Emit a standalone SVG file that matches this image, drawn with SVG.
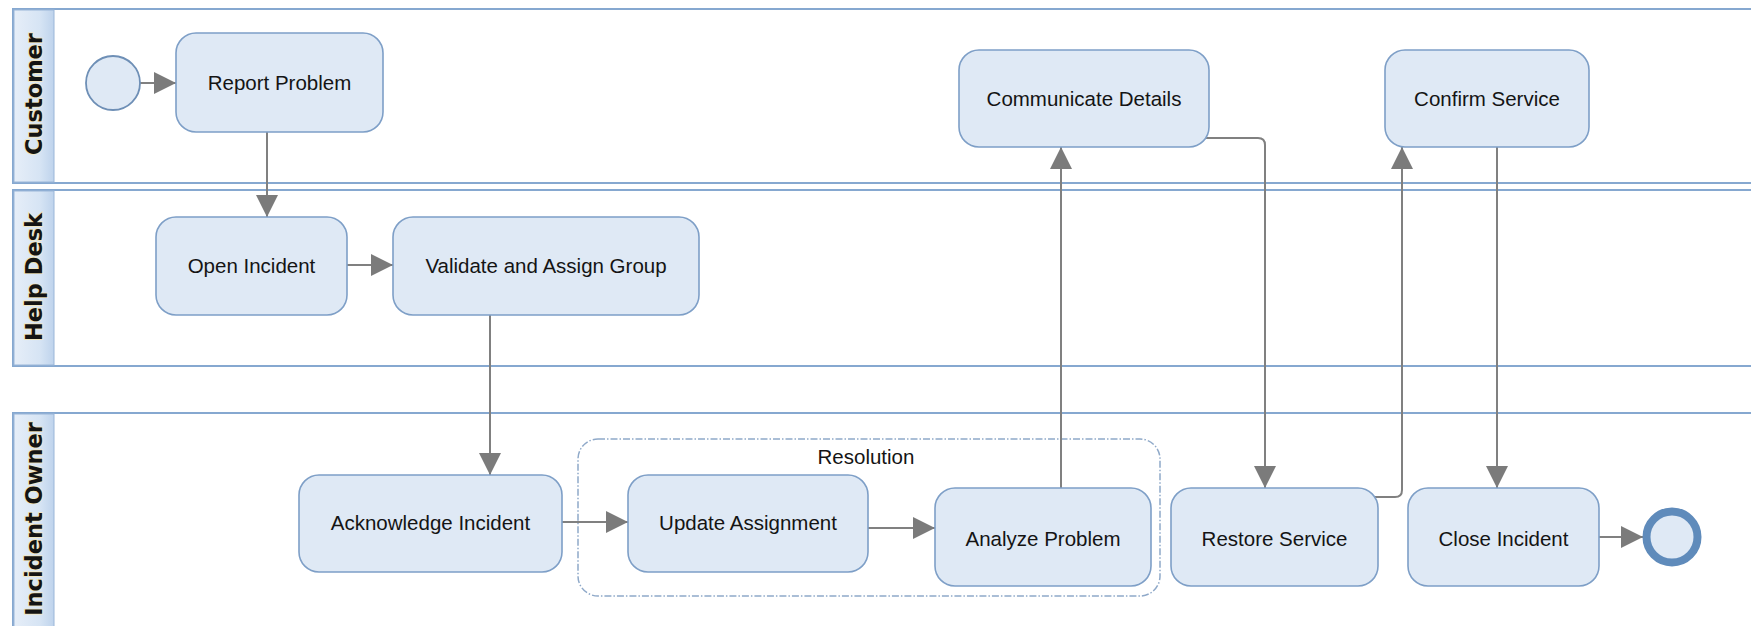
<svg xmlns="http://www.w3.org/2000/svg" width="1751" height="626" viewBox="0 0 1751 626">
  <defs>
    <linearGradient id="hdrGrad" x1="0" y1="0" x2="1" y2="0">
      <stop offset="0" stop-color="#e6eef8"/>
      <stop offset="0.65" stop-color="#d6e4f4"/>
      <stop offset="1" stop-color="#bed3ec"/>
    </linearGradient>
    <marker id="arrow" viewBox="0 0 10 10" refX="10" refY="5" markerWidth="22" markerHeight="22" markerUnits="userSpaceOnUse" orient="auto">
      <path d="M0,0 L10,5 L0,10 z" fill="#7b7b7b"/>
    </marker>
    <style>
      .lane { fill: #ffffff; stroke: #86a8d0; stroke-width: 2; }
      .hdr { fill: url(#hdrGrad); stroke: #9ab6d8; stroke-width: 1; }
      .lane-label { font-family: "DejaVu Sans", "Liberation Sans", sans-serif; font-weight: bold; font-size: 22.5px; fill: #141414; text-anchor: middle; dominant-baseline: central; paint-order: stroke; stroke: #f4e6b8; stroke-width: 1.5px; }
      .task { fill: #dfe9f5; stroke: #7e9fc7; stroke-width: 1.6; }
      .label { font-family: "Liberation Sans", Arial, sans-serif; font-size: 20.5px; fill: #141414; text-anchor: middle; dominant-baseline: central; }
      .group { fill: none; stroke: #8fa9c9; stroke-width: 1.5; stroke-dasharray: 7 2 1.5 2; }
      .flow { fill: none; stroke: #808080; stroke-width: 2; marker-end: url(#arrow); }
    </style>
  </defs>

  <rect width="1751" height="626" fill="#ffffff"/>

  <!-- swimlanes -->
  <g id="lane-customer">
    <rect class="lane" x="13" y="9" width="1750" height="174"/>
    <rect class="hdr" x="14" y="10" width="40" height="172"/>
    <text class="lane-label" transform="translate(34,94) rotate(-90)">Customer</text>
  </g>
  <g id="lane-helpdesk">
    <rect class="lane" x="13" y="190" width="1750" height="176"/>
    <rect class="hdr" x="14" y="191" width="40" height="174"/>
    <text class="lane-label" transform="translate(34,277) rotate(-90)">Help Desk</text>
  </g>
  <g id="lane-owner">
    <rect class="lane" x="13" y="413" width="1750" height="230"/>
    <rect class="hdr" x="14" y="414" width="40" height="228"/>
    <text class="lane-label" transform="translate(34,519) rotate(-90)">Incident Owner</text>
  </g>

  <!-- sub-process boundary -->
  <g id="group-resolution">
    <rect class="group" x="578" y="439" width="582" height="157" rx="20" ry="20"/>
    <text class="label" x="866" y="456">Resolution</text>
  </g>

  <!-- sequence flows -->
  <g id="connectors">
    <path class="flow" d="M140,83 H176"/>
    <path class="flow" d="M267,132 V217"/>
    <path class="flow" d="M347,265 H393"/>
    <path class="flow" d="M490,315 V475"/>
    <path class="flow" d="M562,522 H628"/>
    <path class="flow" d="M868,528 H935"/>
    <path class="flow" d="M1061,488 V147"/>
    <path class="flow" d="M1205,138 H1258 Q1265,138 1265,145 V488"/>
    <path class="flow" d="M1375,497 H1395 Q1402,497 1402,490 V147"/>
    <path class="flow" d="M1497,147 V488"/>
    <path class="flow" d="M1599,537 H1643"/>
  </g>

  <!-- events and tasks -->
  <g id="start">
    <circle cx="113" cy="83" r="27" fill="#dfe9f5" stroke="#6e8fb6" stroke-width="1.8"/>
  </g>
  <g id="report-problem">
    <rect class="task" x="176" y="33" width="207" height="99" rx="20" ry="20"/>
    <text class="label" x="279.5" y="82">Report Problem</text>
  </g>
  <g id="open-incident">
    <rect class="task" x="156" y="217" width="191" height="98" rx="20" ry="20"/>
    <text class="label" x="251.5" y="265">Open Incident</text>
  </g>
  <g id="validate-assign">
    <rect class="task" x="393" y="217" width="306" height="98" rx="20" ry="20"/>
    <text class="label" x="546" y="265">Validate and Assign Group</text>
  </g>
  <g id="acknowledge-incident">
    <rect class="task" x="299" y="475" width="263" height="97" rx="20" ry="20"/>
    <text class="label" x="430.5" y="522">Acknowledge Incident</text>
  </g>
  <g id="update-assignment">
    <rect class="task" x="628" y="475" width="240" height="97" rx="20" ry="20"/>
    <text class="label" x="748" y="522">Update Assignment</text>
  </g>
  <g id="analyze-problem">
    <rect class="task" x="935" y="488" width="216" height="98" rx="20" ry="20"/>
    <text class="label" x="1043" y="538">Analyze Problem</text>
  </g>
  <g id="communicate-details">
    <rect class="task" x="959" y="50" width="250" height="97" rx="20" ry="20"/>
    <text class="label" x="1084" y="98">Communicate Details</text>
  </g>
  <g id="confirm-service">
    <rect class="task" x="1385" y="50" width="204" height="97" rx="20" ry="20"/>
    <text class="label" x="1487" y="98">Confirm Service</text>
  </g>
  <g id="restore-service">
    <rect class="task" x="1171" y="488" width="207" height="98" rx="20" ry="20"/>
    <text class="label" x="1274.5" y="538">Restore Service</text>
  </g>
  <g id="close-incident">
    <rect class="task" x="1408" y="488" width="191" height="98" rx="20" ry="20"/>
    <text class="label" x="1503.5" y="538">Close Incident</text>
  </g>
  <g id="end">
    <circle cx="1672" cy="537" r="25.5" fill="#dfe9f5" stroke="#5f8bbb" stroke-width="8"/>
  </g>
</svg>
